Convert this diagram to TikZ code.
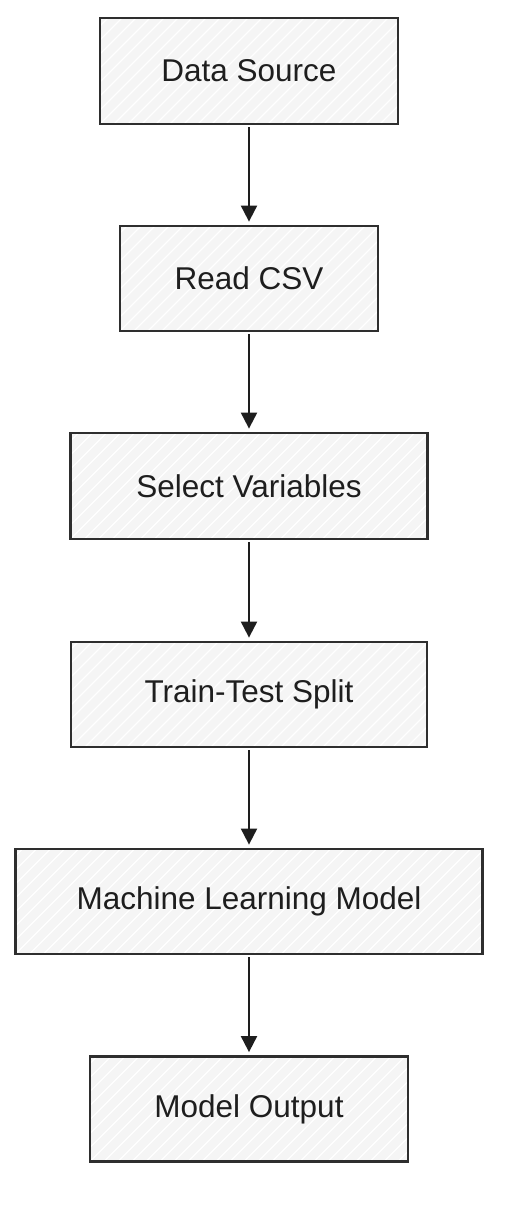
\documentclass[tikz,border=0pt]{standalone}
\usepackage{fontspec}
\setmainfont{Liberation Sans}
\usetikzlibrary{arrows.meta,calc}
\definecolor{boxfill}{HTML}{F5F5F5}
\definecolor{ink}{HTML}{1E1E1E}
\definecolor{edge}{HTML}{2E2E2E}
\tikzset{
  stepbox/.style={draw=edge, line width=2.8pt, fill=boxfill, rectangle,
    inner sep=0pt, text=ink, font=\fontsize{31.5}{38}\selectfont,
    path picture={
      \foreach \i in {-560,-546,...,560}{
        \draw[white, line width=1.2pt]
          ($(path picture bounding box.south west)+(\i pt,0pt)$) -- ++(600pt,600pt);
      }
    }},
  flow/.style={draw=ink, line width=2pt, -{Triangle[length=16pt,width=16pt]},
    shorten >=3pt, shorten <=2pt}
}
\begin{document}
\begin{tikzpicture}[x=1pt,y=-1pt]
\useasboundingbox (0,0) rectangle (516,1218);
\fill[white] (0,0) rectangle (516,1218);
\node[stepbox, minimum width=298pt, minimum height=106pt] (ds) at (249,71) {Data Source};
\node[stepbox, minimum width=258pt, minimum height=105pt] (csv) at (249,278.5) {Read CSV};
\node[stepbox, minimum width=357pt, minimum height=106pt] (sel) at (249,486) {Select Variables};
\node[stepbox, minimum width=356pt, minimum height=105pt] (tts) at (249,694.5) {Train-Test Split};
\node[stepbox, minimum width=467pt, minimum height=105pt] (ml) at (249,901.5) {Machine Learning Model};
\node[stepbox, minimum width=318pt, minimum height=105pt] (out) at (249,1109) {Model Output};
\draw[flow] (ds.south) -- (csv.north);
\draw[flow] (csv.south) -- (sel.north);
\draw[flow] (sel.south) -- (tts.north);
\draw[flow] (tts.south) -- (ml.north);
\draw[flow] (ml.south) -- (out.north);
\end{tikzpicture}
\end{document}
